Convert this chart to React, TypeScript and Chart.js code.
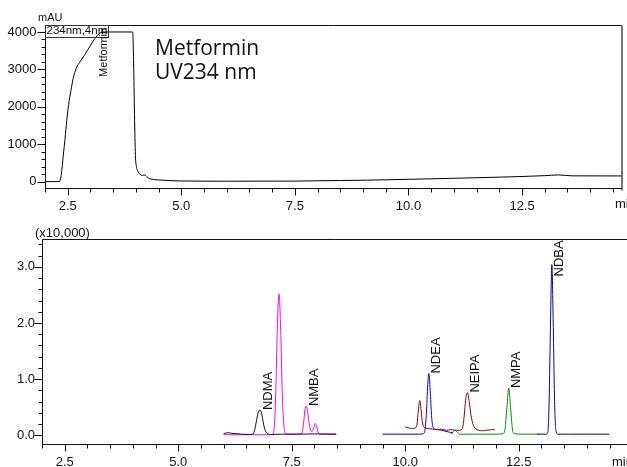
import React, { useEffect, useRef } from 'react';
import { Chart, registerables } from 'chart.js';

Chart.register(...registerables);

const FONT = '"Liberation Sans", Arial, sans-serif';

// ---- Top panel: Metformin, UV 234 nm (mAU) ----
const uvTime = [2.0, 2.2, 2.32, 2.36, 2.4, 2.44, 2.48, 2.52, 2.57, 2.62, 2.69, 2.77, 2.88, 2.99, 3.1, 3.2, 3.27, 3.93, 3.95, 3.97, 3.99, 4.01, 4.05, 4.09, 4.14, 4.18, 4.22, 4.27, 4.33, 4.5, 5.0, 6.0, 7.5, 8.5, 9.1, 10.5, 12.0, 13.0, 13.3, 13.6, 14.7];
const uvAbs = [0, 0, 5, 200, 680, 1130, 1640, 2060, 2430, 2760, 3040, 3200, 3400, 3620, 3830, 3960, 4000, 4000, 3200, 1800, 700, 420, 260, 200, 165, 180, 160, 100, 70, 45, 18, 12, 15, 30, 40, 75, 120, 160, 180, 155, 152];

// ---- Bottom panel: nitrosamines (x10,000) ----
const ndmaTime = [6.0, 6.05, 6.1, 6.18, 6.28, 6.4, 6.55, 6.64, 6.68, 6.72, 6.76, 6.8, 6.84, 6.88, 6.92, 6.97, 7.05, 7.3, 7.6, 8.0, 8.48];
const ndmaVal = [0.03, 0.04, 0.045, 0.035, 0.03, 0.02, 0.015, 0.02, 0.08, 0.24, 0.4, 0.45, 0.38, 0.2, 0.08, 0.03, 0.015, 0.02, 0.02, 0.025, 0.02];

const nmbaTime = [6.0, 6.5, 7.0, 7.08, 7.12, 7.15, 7.18, 7.22, 7.26, 7.29, 7.32, 7.36, 7.45, 7.6, 7.72, 7.76, 7.79, 7.82, 7.85, 7.89, 7.94, 7.98, 8.02, 8.05, 8.09, 8.15, 8.48];
const nmbaVal = [0.01, 0.01, 0.01, 0.02, 0.2, 0.8, 1.8, 2.52, 1.8, 0.8, 0.25, 0.04, 0.02, 0.02, 0.03, 0.2, 0.45, 0.52, 0.42, 0.18, 0.06, 0.12, 0.21, 0.15, 0.04, 0.02, 0.02];

const ndeaTime = [9.5, 10.0, 10.3, 10.4, 10.44, 10.47, 10.5, 10.52, 10.55, 10.58, 10.61, 10.66, 10.72, 10.8, 10.9, 11.0, 11.05];
const ndeaVal = [0.02, 0.02, 0.02, 0.03, 0.12, 0.45, 0.95, 1.1, 0.8, 0.35, 0.15, 0.11, 0.1, 0.09, 0.07, 0.05, 0.04];

const neipaTime = [10.0, 10.08, 10.16, 10.22, 10.26, 10.29, 10.32, 10.35, 10.38, 10.42, 10.5, 10.6, 10.7, 10.8, 10.9, 11.0, 11.1, 11.2, 11.26, 11.3, 11.33, 11.37, 11.41, 11.45, 11.5, 11.56, 11.62, 11.7, 11.8, 11.9, 11.97];
const neipaVal = [0.15, 0.13, 0.12, 0.13, 0.2, 0.45, 0.62, 0.45, 0.22, 0.14, 0.12, 0.11, 0.1, 0.11, 0.09, 0.1, 0.09, 0.09, 0.12, 0.35, 0.62, 0.76, 0.6, 0.35, 0.18, 0.11, 0.09, 0.08, 0.09, 0.1, 0.1];

const nmpaTime = [11.0, 11.05, 11.1, 11.15, 11.2, 11.5, 12.0, 12.16, 12.2, 12.24, 12.28, 12.32, 12.36, 12.4, 12.6, 12.96];
const nmpaVal = [0.03, 0.05, 0.09, 0.05, 0.02, 0.02, 0.02, 0.03, 0.12, 0.5, 0.84, 0.5, 0.12, 0.03, 0.02, 0.02];

const ndbaTime = [12.9, 13.1, 13.14, 13.17, 13.2, 13.23, 13.26, 13.29, 13.32, 13.36, 13.6, 14.0, 14.5];
const ndbaVal = [0.02, 0.02, 0.05, 0.6, 2.0, 3.04, 2.0, 0.6, 0.08, 0.02, 0.02, 0.02, 0.02];

const peakNames = ['NDMA', 'NMBA', 'NDEA', 'NEIPA', 'NMPA', 'NDBA'];
const peakTimes = [6.8, 7.82, 10.52, 11.37, 12.28, 13.23];
const peakHeights = [0.45, 0.52, 1.1, 0.76, 0.84, 3.04];

// ---- Tick labels ----
const xMajorTicks = [2.5, 5.0, 7.5, 10.0, 12.5];
const uvYTicks = [0, 1000, 2000, 3000, 4000];
const msYTicks = [0, 1, 2, 3];

const pts = (t: number[], v: number[]) => t.map((x, i) => ({ x, y: v[i] }));

const lineDs = (label: string, t: number[], v: number[], color: string) => ({
  label,
  data: pts(t, v),
  borderColor: color,
  backgroundColor: color,
  borderWidth: 1,
  pointRadius: 0,
  cubicInterpolationMode: 'monotone' as const,
  fill: false,
});

type AxisOpts = {
  yWidth: number;
  xHeight: number;
  xMin: number;
  xMax: number;
  yMin: number;
  yMax: number;
  yMajor: number[];
  yMinorStep: number;
  yMinorMax: number;
  yDecimals: number;
  xPad: number;
  yPad: number;
  padTop: number;
  padRight: number;
};

function makeScales(o: AxisOpts) {
  return {
    x: {
      type: 'linear' as const,
      min: o.xMin,
      max: o.xMax,
      afterFit: (s: any) => { s.height = o.xHeight; },
      afterBuildTicks: (s: any) => { s.ticks = xMajorTicks.map((value) => ({ value })); },
      grid: { display: false, drawTicks: false },
      border: { display: false },
      ticks: {
        autoSkip: false,
        maxRotation: 0,
        padding: o.xPad,
        color: '#111',
        font: { family: FONT, size: 13 },
        callback: (v: any) => Number(v).toFixed(1),
      },
    },
    y: {
      type: 'linear' as const,
      min: o.yMin,
      max: o.yMax,
      afterFit: (s: any) => { s.width = o.yWidth; },
      afterBuildTicks: (s: any) => { s.ticks = o.yMajor.map((value) => ({ value })); },
      grid: { display: false, drawTicks: false },
      border: { display: false },
      ticks: {
        autoSkip: false,
        padding: o.yPad,
        color: '#111',
        font: { family: FONT, size: 13 },
        callback: (v: any) => Number(v).toFixed(o.yDecimals),
      },
    },
  };
}

function drawFrame(chart: any, o: AxisOpts, rightBorder: boolean) {
  const { ctx, chartArea: ca, scales } = chart;
  const x = scales.x;
  const y = scales.y;
  const L = Math.round(ca.left) + 0.5;
  const B = Math.round(ca.bottom) + 0.5;
  const T = Math.round(ca.top) + 0.5;
  ctx.save();
  ctx.strokeStyle = '#111';
  ctx.lineWidth = 1;
  ctx.beginPath();
  ctx.moveTo(L, T);
  ctx.lineTo(L, B);
  ctx.moveTo(L, B);
  ctx.lineTo(ca.right, B);
  ctx.moveTo(L, T);
  ctx.lineTo(ca.right, T);
  // x ticks every 0.5 min
  for (let k = 0; ; k++) {
    const v = 2 + k * 0.5;
    if (v > 14.5001) break;
    const px = Math.round(x.getPixelForValue(v)) + 0.5;
    const major = Math.abs(v / 2.5 - Math.round(v / 2.5)) < 1e-6;
    ctx.moveTo(px, B);
    ctx.lineTo(px, B + (major ? 7 : 4));
  }
  // y ticks
  for (let k = 0; ; k++) {
    const v = k * o.yMinorStep;
    if (v > o.yMinorMax + 1e-9) break;
    const py = Math.round(y.getPixelForValue(v)) + 0.5;
    const major = o.yMajor.some((m) => Math.abs(m - v) < 1e-6);
    ctx.moveTo(L - (major ? 8 : 4), py);
    ctx.lineTo(L, py);
  }
  ctx.stroke();
  if (rightBorder) {
    ctx.strokeStyle = '#555';
    ctx.lineWidth = 1.6;
    ctx.beginPath();
    ctx.moveTo(ca.right, T);
    ctx.lineTo(ca.right, B + 2);
    ctx.stroke();
  }
  ctx.restore();
}

const topOpts: AxisOpts = {
  yWidth: 45, xHeight: 27, xMin: 2.0, xMax: 14.7, yMin: -170, yMax: 4200,
  yMajor: uvYTicks, yMinorStep: 200, yMinorMax: 4000, yDecimals: 0,
  xPad: 11, yPad: 8.5, padTop: 24.5, padRight: 5,
};

const botOpts: AxisOpts = {
  yWidth: 42, xHeight: 23, xMin: 2.0, xMax: 14.885, yMin: -0.155, yMax: 3.49,
  yMajor: msYTicks, yMinorStep: 0.2, yMinorMax: 3.4, yDecimals: 1,
  xPad: 10.5, yPad: 7, padTop: 24.3, padRight: 0,
};

export default function App() {
  const topRef = useRef<HTMLCanvasElement | null>(null);
  const botRef = useRef<HTMLCanvasElement | null>(null);

  useEffect(() => {
    if (!topRef.current || !botRef.current) return;

    const topPlugin = {
      id: 'topDecor',
      afterDraw(chart: any) {
        drawFrame(chart, topOpts, true);
        const { ctx, chartArea: ca, scales } = chart;
        ctx.save();
        ctx.fillStyle = '#111';
        ctx.font = `11px ${FONT}`;
        ctx.textAlign = 'left';
        ctx.textBaseline = 'middle';
        ctx.fillText('mAU', 38, 17.5);
        // channel box
        ctx.strokeStyle = '#333';
        ctx.lineWidth = 1;
        ctx.strokeRect(Math.round(ca.left) + 0.5, Math.round(ca.top) + 0.5, 63, 12);
        ctx.font = `11.5px ${FONT}`;
        ctx.fillText('234nm,4nm', ca.left + 1.5, ca.top + 6.5);
        // peak label
        const px = scales.x.getPixelForValue(3.3);
        const py = scales.y.getPixelForValue(2800);
        ctx.translate(px, py);
        ctx.rotate(-Math.PI / 2);
        ctx.font = `11px ${FONT}`;
        ctx.fillText('Metformin', 0, 0);
        ctx.restore();
        // big title
        ctx.save();
        ctx.fillStyle = '#111';
        ctx.font = `21px "Open Sans", sans-serif`;
        ctx.textAlign = 'left';
        ctx.textBaseline = 'alphabetic';
        ctx.fillText('Metformin', 155, 55);
        ctx.fillText('UV234 nm', 155, 78.5);
        // axis unit
        ctx.font = `13px ${FONT}`;
        ctx.textBaseline = 'middle';
        ctx.fillText('min', 615, 204);
        ctx.restore();
      },
    };

    const botPlugin = {
      id: 'botDecor',
      afterDraw(chart: any) {
        drawFrame(chart, botOpts, false);
        const { ctx, chartArea: ca, scales } = chart;
        ctx.save();
        ctx.fillStyle = '#111';
        ctx.font = `13px ${FONT}`;
        ctx.textAlign = 'left';
        ctx.textBaseline = 'middle';
        ctx.fillText('(x10,000)', 35, 18);
        ctx.fillText('min', 612, 247);
        peakNames.forEach((name, i) => {
          const px = scales.x.getPixelForValue(peakTimes[i]) + 8;
          let py = scales.y.getPixelForValue(peakHeights[i]);
          const w = ctx.measureText(name).width;
          if (py - w < ca.top + 1) py = ca.top + w + 1;
          ctx.save();
          ctx.translate(px, py);
          ctx.rotate(-Math.PI / 2);
          ctx.fillText(name, 0, 0);
          ctx.restore();
        });
        ctx.restore();
      },
    };

    const common = (o: AxisOpts) => ({
      responsive: false,
      animation: false as const,
      events: [] as any[],
      layout: { padding: { top: o.padTop, right: o.padRight, left: 0, bottom: 0 } },
      plugins: { legend: { display: false }, tooltip: { enabled: false }, title: { display: false } },
      scales: makeScales(o),
    });

    const top = new Chart(topRef.current, {
      type: 'line',
      data: { datasets: [lineDs('Metformin 234nm', uvTime, uvAbs, '#000000')] },
      options: common(topOpts) as any,
      plugins: [topPlugin],
    });

    const bot = new Chart(botRef.current, {
      type: 'line',
      data: {
        datasets: [
          lineDs('NDMA', ndmaTime, ndmaVal, '#111111'),
          lineDs('NMBA', nmbaTime, nmbaVal, '#ff00ff'),
          lineDs('NEIPA', neipaTime, neipaVal, '#8b0000'),
          lineDs('NDEA', ndeaTime, ndeaVal, '#0000ff'),
          lineDs('NMPA', nmpaTime, nmpaVal, '#0a8a0a'),
          lineDs('NDBA', ndbaTime, ndbaVal, '#0a0a80'),
        ],
      },
      options: common(botOpts) as any,
      plugins: [botPlugin],
    });

    return () => {
      top.destroy();
      bot.destroy();
    };
  }, []);

  return (
    <div style={{ position: 'fixed', left: 0, top: 0, width: 627, height: 467, background: '#fff', overflow: 'hidden' }}>
      <canvas ref={topRef} width={627} height={215} style={{ position: 'absolute', left: 0, top: 0, width: 627, height: 215 }} />
      <canvas ref={botRef} width={627} height={252} style={{ position: 'absolute', left: 0, top: 215, width: 627, height: 252 }} />
    </div>
  );
}
